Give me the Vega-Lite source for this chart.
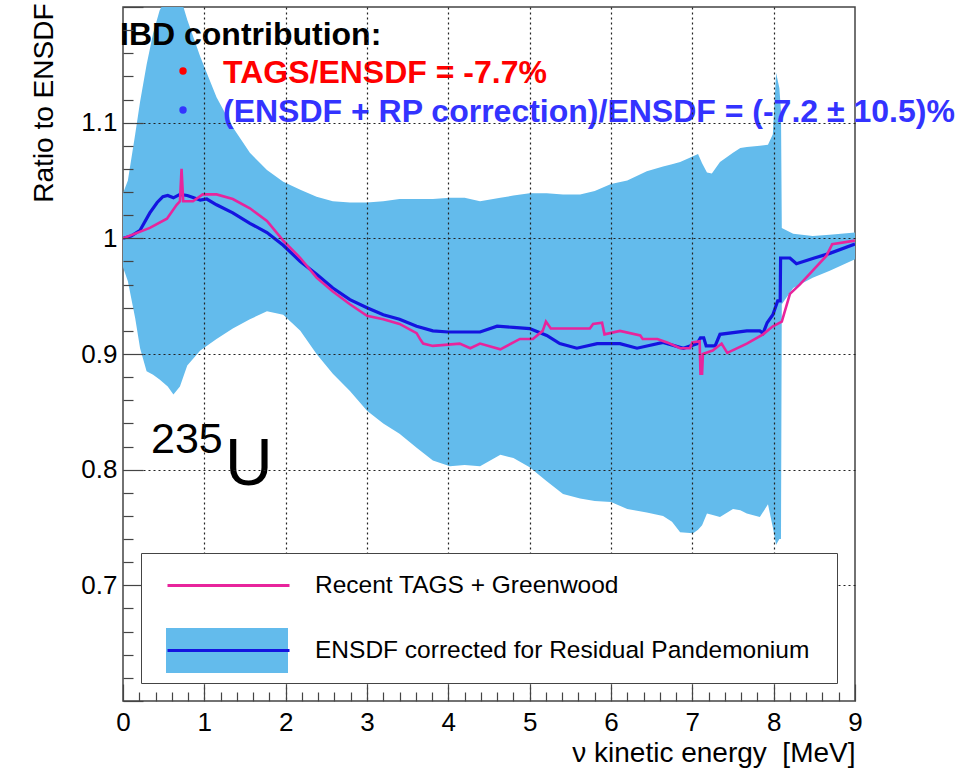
{
  "$schema": "https://vega.github.io/schema/vega-lite/v6.json",
  "width": 732,
  "height": 694,
  "autosize": {"type": "none"},
  "padding": {"left": 123, "top": 7, "right": 106, "bottom": 70},
  "background": "white",
  "config": {
    "font": "Liberation Sans",
    "view": {"stroke": "#444", "strokeWidth": 1.5}
  },
  "datasets": {
    "band": [
      {"E": 0, "lo": 0.975, "hi": 1.039},
      {"E": 0.06, "lo": 0.963, "hi": 1.05},
      {"E": 0.15, "lo": 0.931, "hi": 1.09},
      {"E": 0.21, "lo": 0.905, "hi": 1.118},
      {"E": 0.29, "lo": 0.885, "hi": 1.15},
      {"E": 0.37, "lo": 0.882, "hi": 1.177},
      {"E": 0.45, "lo": 0.878, "hi": 1.197},
      {"E": 0.55, "lo": 0.872, "hi": 1.21},
      {"E": 0.62, "lo": 0.865, "hi": 1.21},
      {"E": 0.7, "lo": 0.872, "hi": 1.21},
      {"E": 0.79, "lo": 0.89, "hi": 1.189},
      {"E": 0.95, "lo": 0.903, "hi": 1.157},
      {"E": 1.15, "lo": 0.913, "hi": 1.122},
      {"E": 1.35, "lo": 0.922, "hi": 1.096},
      {"E": 1.56, "lo": 0.93, "hi": 1.074},
      {"E": 1.77, "lo": 0.937, "hi": 1.059},
      {"E": 1.97, "lo": 0.934, "hi": 1.049},
      {"E": 2.18, "lo": 0.92, "hi": 1.042},
      {"E": 2.38, "lo": 0.9, "hi": 1.036},
      {"E": 2.58, "lo": 0.883, "hi": 1.032},
      {"E": 2.79, "lo": 0.868, "hi": 1.031},
      {"E": 3.0, "lo": 0.851, "hi": 1.031},
      {"E": 3.2, "lo": 0.84, "hi": 1.032},
      {"E": 3.4, "lo": 0.831, "hi": 1.034},
      {"E": 3.61, "lo": 0.819, "hi": 1.034},
      {"E": 3.81, "lo": 0.808, "hi": 1.034},
      {"E": 4.02, "lo": 0.803, "hi": 1.035},
      {"E": 4.2, "lo": 0.804, "hi": 1.035},
      {"E": 4.39, "lo": 0.803, "hi": 1.032},
      {"E": 4.64, "lo": 0.813, "hi": 1.035},
      {"E": 4.8, "lo": 0.81, "hi": 1.037},
      {"E": 5.0, "lo": 0.802, "hi": 1.039},
      {"E": 5.21, "lo": 0.79, "hi": 1.039},
      {"E": 5.41, "lo": 0.779, "hi": 1.038},
      {"E": 5.62, "lo": 0.775, "hi": 1.038},
      {"E": 5.8, "lo": 0.773, "hi": 1.041},
      {"E": 6.0, "lo": 0.772, "hi": 1.047},
      {"E": 6.2, "lo": 0.766, "hi": 1.05},
      {"E": 6.44, "lo": 0.763, "hi": 1.058},
      {"E": 6.64, "lo": 0.76, "hi": 1.062},
      {"E": 6.75, "lo": 0.755, "hi": 1.064},
      {"E": 6.85, "lo": 0.746, "hi": 1.066},
      {"E": 7.01, "lo": 0.745, "hi": 1.071},
      {"E": 7.07, "lo": 0.748, "hi": 1.073},
      {"E": 7.12, "lo": 0.752, "hi": 1.065},
      {"E": 7.18, "lo": 0.762, "hi": 1.057},
      {"E": 7.24, "lo": 0.761, "hi": 1.056},
      {"E": 7.34, "lo": 0.759, "hi": 1.066},
      {"E": 7.5, "lo": 0.766, "hi": 1.074},
      {"E": 7.59, "lo": 0.765, "hi": 1.078},
      {"E": 7.67, "lo": 0.762, "hi": 1.079},
      {"E": 7.83, "lo": 0.759, "hi": 1.08},
      {"E": 7.93, "lo": 0.77, "hi": 1.081},
      {"E": 7.99, "lo": 0.75, "hi": 1.09},
      {"E": 8.03, "lo": 0.735, "hi": 1.143},
      {"E": 8.07, "lo": 0.74, "hi": 1.13},
      {"E": 8.09, "lo": 0.74, "hi": 1.11},
      {"E": 8.1, "lo": 0.943, "hi": 1.009},
      {"E": 8.24, "lo": 0.957, "hi": 1.004},
      {"E": 8.48, "lo": 0.966, "hi": 1.002},
      {"E": 8.69, "lo": 0.972, "hi": 1.003},
      {"E": 9.0, "lo": 0.982, "hi": 1.005}
    ],
    "lines": [
      {"series": "ENSDF corrected for Residual Pandemonium", "E": 0, "r": 1.0},
      {"series": "ENSDF corrected for Residual Pandemonium", "E": 0.1, "r": 1.002},
      {"series": "ENSDF corrected for Residual Pandemonium", "E": 0.21, "r": 1.007},
      {"series": "ENSDF corrected for Residual Pandemonium", "E": 0.33, "r": 1.022},
      {"series": "ENSDF corrected for Residual Pandemonium", "E": 0.42, "r": 1.031},
      {"series": "ENSDF corrected for Residual Pandemonium", "E": 0.49, "r": 1.036},
      {"series": "ENSDF corrected for Residual Pandemonium", "E": 0.55, "r": 1.037},
      {"series": "ENSDF corrected for Residual Pandemonium", "E": 0.62, "r": 1.035},
      {"series": "ENSDF corrected for Residual Pandemonium", "E": 0.7, "r": 1.038},
      {"series": "ENSDF corrected for Residual Pandemonium", "E": 0.79, "r": 1.037},
      {"series": "ENSDF corrected for Residual Pandemonium", "E": 0.87, "r": 1.035},
      {"series": "ENSDF corrected for Residual Pandemonium", "E": 0.95, "r": 1.033},
      {"series": "ENSDF corrected for Residual Pandemonium", "E": 1.03, "r": 1.034},
      {"series": "ENSDF corrected for Residual Pandemonium", "E": 1.15, "r": 1.029},
      {"series": "ENSDF corrected for Residual Pandemonium", "E": 1.35, "r": 1.022},
      {"series": "ENSDF corrected for Residual Pandemonium", "E": 1.56, "r": 1.013},
      {"series": "ENSDF corrected for Residual Pandemonium", "E": 1.77, "r": 1.005},
      {"series": "ENSDF corrected for Residual Pandemonium", "E": 1.97, "r": 0.994},
      {"series": "ENSDF corrected for Residual Pandemonium", "E": 2.18, "r": 0.98},
      {"series": "ENSDF corrected for Residual Pandemonium", "E": 2.38, "r": 0.969},
      {"series": "ENSDF corrected for Residual Pandemonium", "E": 2.58, "r": 0.957},
      {"series": "ENSDF corrected for Residual Pandemonium", "E": 2.79, "r": 0.947},
      {"series": "ENSDF corrected for Residual Pandemonium", "E": 3.0, "r": 0.94},
      {"series": "ENSDF corrected for Residual Pandemonium", "E": 3.2, "r": 0.934},
      {"series": "ENSDF corrected for Residual Pandemonium", "E": 3.4, "r": 0.93},
      {"series": "ENSDF corrected for Residual Pandemonium", "E": 3.61, "r": 0.924},
      {"series": "ENSDF corrected for Residual Pandemonium", "E": 3.81, "r": 0.92},
      {"series": "ENSDF corrected for Residual Pandemonium", "E": 4.0, "r": 0.919},
      {"series": "ENSDF corrected for Residual Pandemonium", "E": 4.39, "r": 0.919},
      {"series": "ENSDF corrected for Residual Pandemonium", "E": 4.6, "r": 0.924},
      {"series": "ENSDF corrected for Residual Pandemonium", "E": 4.8, "r": 0.923},
      {"series": "ENSDF corrected for Residual Pandemonium", "E": 5.0, "r": 0.922},
      {"series": "ENSDF corrected for Residual Pandemonium", "E": 5.21, "r": 0.916},
      {"series": "ENSDF corrected for Residual Pandemonium", "E": 5.37, "r": 0.909},
      {"series": "ENSDF corrected for Residual Pandemonium", "E": 5.58, "r": 0.905},
      {"series": "ENSDF corrected for Residual Pandemonium", "E": 5.83, "r": 0.909},
      {"series": "ENSDF corrected for Residual Pandemonium", "E": 6.11, "r": 0.909},
      {"series": "ENSDF corrected for Residual Pandemonium", "E": 6.32, "r": 0.905},
      {"series": "ENSDF corrected for Residual Pandemonium", "E": 6.64, "r": 0.91},
      {"series": "ENSDF corrected for Residual Pandemonium", "E": 6.89, "r": 0.905},
      {"series": "ENSDF corrected for Residual Pandemonium", "E": 7.06, "r": 0.909},
      {"series": "ENSDF corrected for Residual Pandemonium", "E": 7.1, "r": 0.914},
      {"series": "ENSDF corrected for Residual Pandemonium", "E": 7.14, "r": 0.914},
      {"series": "ENSDF corrected for Residual Pandemonium", "E": 7.17, "r": 0.907},
      {"series": "ENSDF corrected for Residual Pandemonium", "E": 7.28, "r": 0.907},
      {"series": "ENSDF corrected for Residual Pandemonium", "E": 7.34, "r": 0.917},
      {"series": "ENSDF corrected for Residual Pandemonium", "E": 7.67, "r": 0.92},
      {"series": "ENSDF corrected for Residual Pandemonium", "E": 7.83, "r": 0.92},
      {"series": "ENSDF corrected for Residual Pandemonium", "E": 7.87, "r": 0.918},
      {"series": "ENSDF corrected for Residual Pandemonium", "E": 7.92, "r": 0.927},
      {"series": "ENSDF corrected for Residual Pandemonium", "E": 7.99, "r": 0.934},
      {"series": "ENSDF corrected for Residual Pandemonium", "E": 8.05, "r": 0.946},
      {"series": "ENSDF corrected for Residual Pandemonium", "E": 8.08, "r": 0.946},
      {"series": "ENSDF corrected for Residual Pandemonium", "E": 8.085, "r": 0.983},
      {"series": "ENSDF corrected for Residual Pandemonium", "E": 8.2, "r": 0.983},
      {"series": "ENSDF corrected for Residual Pandemonium", "E": 8.28, "r": 0.978},
      {"series": "ENSDF corrected for Residual Pandemonium", "E": 8.5, "r": 0.983},
      {"series": "ENSDF corrected for Residual Pandemonium", "E": 8.69, "r": 0.987},
      {"series": "ENSDF corrected for Residual Pandemonium", "E": 9.0, "r": 0.995},
      {"series": "Recent TAGS + Greenwood", "E": 0, "r": 1.0},
      {"series": "Recent TAGS + Greenwood", "E": 0.33, "r": 1.009},
      {"series": "Recent TAGS + Greenwood", "E": 0.54, "r": 1.017},
      {"series": "Recent TAGS + Greenwood", "E": 0.66, "r": 1.029},
      {"series": "Recent TAGS + Greenwood", "E": 0.7, "r": 1.032},
      {"series": "Recent TAGS + Greenwood", "E": 0.72, "r": 1.06},
      {"series": "Recent TAGS + Greenwood", "E": 0.74, "r": 1.032},
      {"series": "Recent TAGS + Greenwood", "E": 0.86, "r": 1.032},
      {"series": "Recent TAGS + Greenwood", "E": 0.98, "r": 1.038},
      {"series": "Recent TAGS + Greenwood", "E": 1.15, "r": 1.038},
      {"series": "Recent TAGS + Greenwood", "E": 1.35, "r": 1.034},
      {"series": "Recent TAGS + Greenwood", "E": 1.56, "r": 1.026},
      {"series": "Recent TAGS + Greenwood", "E": 1.77, "r": 1.015},
      {"series": "Recent TAGS + Greenwood", "E": 1.97, "r": 0.998},
      {"series": "Recent TAGS + Greenwood", "E": 2.18, "r": 0.983},
      {"series": "Recent TAGS + Greenwood", "E": 2.38, "r": 0.966},
      {"series": "Recent TAGS + Greenwood", "E": 2.58, "r": 0.954},
      {"series": "Recent TAGS + Greenwood", "E": 2.79, "r": 0.943},
      {"series": "Recent TAGS + Greenwood", "E": 3.0, "r": 0.933},
      {"series": "Recent TAGS + Greenwood", "E": 3.2, "r": 0.93},
      {"series": "Recent TAGS + Greenwood", "E": 3.4, "r": 0.926},
      {"series": "Recent TAGS + Greenwood", "E": 3.61, "r": 0.918},
      {"series": "Recent TAGS + Greenwood", "E": 3.66, "r": 0.912},
      {"series": "Recent TAGS + Greenwood", "E": 3.69, "r": 0.909},
      {"series": "Recent TAGS + Greenwood", "E": 3.81, "r": 0.907},
      {"series": "Recent TAGS + Greenwood", "E": 4.14, "r": 0.909},
      {"series": "Recent TAGS + Greenwood", "E": 4.27, "r": 0.905},
      {"series": "Recent TAGS + Greenwood", "E": 4.39, "r": 0.909},
      {"series": "Recent TAGS + Greenwood", "E": 4.64, "r": 0.904},
      {"series": "Recent TAGS + Greenwood", "E": 4.88, "r": 0.913},
      {"series": "Recent TAGS + Greenwood", "E": 5.04, "r": 0.913},
      {"series": "Recent TAGS + Greenwood", "E": 5.16, "r": 0.92},
      {"series": "Recent TAGS + Greenwood", "E": 5.2, "r": 0.928},
      {"series": "Recent TAGS + Greenwood", "E": 5.26, "r": 0.922},
      {"series": "Recent TAGS + Greenwood", "E": 5.62, "r": 0.922},
      {"series": "Recent TAGS + Greenwood", "E": 5.74, "r": 0.922},
      {"series": "Recent TAGS + Greenwood", "E": 5.78, "r": 0.926},
      {"series": "Recent TAGS + Greenwood", "E": 5.89, "r": 0.927},
      {"series": "Recent TAGS + Greenwood", "E": 5.92, "r": 0.917},
      {"series": "Recent TAGS + Greenwood", "E": 6.11, "r": 0.92},
      {"series": "Recent TAGS + Greenwood", "E": 6.36, "r": 0.916},
      {"series": "Recent TAGS + Greenwood", "E": 6.39, "r": 0.913},
      {"series": "Recent TAGS + Greenwood", "E": 6.57, "r": 0.913},
      {"series": "Recent TAGS + Greenwood", "E": 6.69, "r": 0.91},
      {"series": "Recent TAGS + Greenwood", "E": 6.85, "r": 0.905},
      {"series": "Recent TAGS + Greenwood", "E": 6.97, "r": 0.905},
      {"series": "Recent TAGS + Greenwood", "E": 7.0, "r": 0.91},
      {"series": "Recent TAGS + Greenwood", "E": 7.09, "r": 0.911},
      {"series": "Recent TAGS + Greenwood", "E": 7.1, "r": 0.883},
      {"series": "Recent TAGS + Greenwood", "E": 7.12, "r": 0.883},
      {"series": "Recent TAGS + Greenwood", "E": 7.13, "r": 0.9},
      {"series": "Recent TAGS + Greenwood", "E": 7.25, "r": 0.903},
      {"series": "Recent TAGS + Greenwood", "E": 7.36, "r": 0.909},
      {"series": "Recent TAGS + Greenwood", "E": 7.43, "r": 0.901},
      {"series": "Recent TAGS + Greenwood", "E": 7.67, "r": 0.909},
      {"series": "Recent TAGS + Greenwood", "E": 7.87, "r": 0.917},
      {"series": "Recent TAGS + Greenwood", "E": 7.99, "r": 0.924},
      {"series": "Recent TAGS + Greenwood", "E": 8.1, "r": 0.928},
      {"series": "Recent TAGS + Greenwood", "E": 8.2, "r": 0.952},
      {"series": "Recent TAGS + Greenwood", "E": 8.32, "r": 0.96},
      {"series": "Recent TAGS + Greenwood", "E": 8.48, "r": 0.972},
      {"series": "Recent TAGS + Greenwood", "E": 8.65, "r": 0.985},
      {"series": "Recent TAGS + Greenwood", "E": 8.72, "r": 0.995},
      {"series": "Recent TAGS + Greenwood", "E": 9.0, "r": 0.998}
    ]
  },
  "layer": [
    {
      "data": {"name": "band"},
      "mark": {"type": "area", "clip": true},
      "encoding": {
        "x": {
          "field": "E", "type": "quantitative",
          "scale": {"domain": [0, 9], "nice": false, "zero": false},
          "axis": {
            "values": [0,0.2,0.4,0.6,0.8,1,1.2,1.4,1.6,1.8,2,2.2,2.4,2.6,2.8,3,3.2,3.4,3.6,3.8,4,4.2,4.4,4.6,4.8,5,5.2,5.4,5.6,5.8,6,6.2,6.4,6.6,6.8,7,7.2,7.4,7.6,7.8,8,8.2,8.4,8.6,8.8,9],
            "tickCount": 200,
            "domain": false,
            "tickColor": "#444",
            "tickWidth": 1.2,
            "tickSize": {"condition": {"test": "abs(datum.value - round(datum.value)) < 0.001", "value": -17}, "value": -9},
            "labelExpr": "abs(datum.value - round(datum.value)) < 0.001 ? format(datum.value, 'd') : ''",
            "labelFontSize": 26,
            "labelColor": "#000",
            "labelPadding": 25,
            "labelFlush": false,
            "labelOverlap": false,
            "grid": true,
            "gridColor": "#222",
            "gridDash": [2, 3],
            "gridWidth": 1.2,
            "gridOpacity": {"condition": {"test": "abs(datum.value - round(datum.value)) < 0.001 && datum.value > 0.5 && datum.value < 8.5", "value": 1}, "value": 0},
            "title": "ν kinetic energy \u00a0[MeV]",
            "titleFontSize": 28,
            "titleFontWeight": "normal",
            "titleColor": "#000",
            "titleAnchor": "end",
            "titleAlign": "right",
            "titleBaseline": "alphabetic",
            "titleX": 732,
            "titleY": 60,
            "zindex": 1
          }
        },
        "y": {
          "field": "lo", "type": "quantitative",
          "scale": {"domain": [0.6, 1.2], "nice": false, "zero": false},
          "axis": {
            "values": [0.6,0.62,0.64,0.66,0.68,0.7,0.72,0.74,0.76,0.78,0.8,0.82,0.84,0.86,0.88,0.9,0.92,0.94,0.96,0.98,1,1.02,1.04,1.06,1.08,1.1,1.12,1.14,1.16,1.18,1.2],
            "tickCount": 200,
            "domain": false,
            "tickColor": "#444",
            "tickWidth": 1.2,
            "tickSize": {"condition": {"test": "abs(datum.value*10 - round(datum.value*10)) < 0.001", "value": -20}, "value": -10},
            "labelExpr": "abs(datum.value*10 - round(datum.value*10)) < 0.001 && datum.value > 0.65 && datum.value < 1.15 ? format(datum.value, '.1~f') : ''",
            "labelFontSize": 26,
            "labelColor": "#000",
            "labelPadding": 26,
            "labelFlush": false,
            "labelOverlap": false,
            "grid": true,
            "gridColor": "#222",
            "gridDash": [2, 3],
            "gridWidth": 1.2,
            "gridOpacity": {"condition": {"test": "abs(datum.value*10 - round(datum.value*10)) < 0.001 && datum.value > 0.65 && datum.value < 1.15", "value": 1}, "value": 0},
            "title": "Ratio to ENSDF",
            "titleFontSize": 28,
            "titleFontWeight": "normal",
            "titleColor": "#000",
            "titleAngle": -90,
            "titleAlign": "right",
            "titleBaseline": "alphabetic",
            "titleX": -71,
            "titleY": -4,
            "zindex": 1
          }
        },
        "y2": {"field": "hi"},
        "fill": {
          "datum": "ENSDF",
          "type": "nominal",
          "scale": {"domain": ["TAGS", "ENSDF"], "range": ["transparent", "#63bbec"]},
          "legend": {
            "orient": "none",
            "legendX": 18,
            "legendY": 546,
            "title": ".",
            "titleOrient": "right",
            "titleColor": "transparent",
            "titleFontSize": 8,
            "titlePadding": 15,
            "symbolType": "M-1,-0.37H1V0.37H-1Z",
            "symbolSize": 14884,
            "symbolStrokeWidth": 0,
            "symbolOpacity": 1,
            "clipHeight": 45,
            "rowPadding": 20,
            "padding": 10,
            "symbolOffset": 15,
            "labelOffset": 27,
            "labelFontSize": 24.5,
            "labelColor": "#000",
            "labelLimit": 1000,
            "labelExpr": "datum.value === 'TAGS' ? 'Recent TAGS + Greenwood' : 'ENSDF corrected for Residual Pandemonium'",
            "strokeColor": "#444",
            "fillColor": "white",
            "zindex": 2
          }
        }
      }
    },
    {
      "data": {"name": "lines"},
      "transform": [{"filter": "datum.series === 'ENSDF corrected for Residual Pandemonium'"}],
      "mark": {"type": "line", "strokeWidth": 3.2, "clip": true},
      "encoding": {
        "x": {"field": "E", "type": "quantitative"},
        "y": {"field": "r", "type": "quantitative"},
        "stroke": {
          "field": "series",
          "type": "nominal",
          "scale": {"domain": ["Recent TAGS + Greenwood", "ENSDF corrected for Residual Pandemonium"], "range": ["#e8249c", "#1414e0"]},
          "legend": {
            "orient": "none",
            "legendX": 18,
            "legendY": 546,
            "title": null,
            "symbolType": "stroke",
            "symbolSize": 14884,
            "symbolStrokeWidth": 3,
            "clipHeight": 45,
            "rowPadding": 20,
            "padding": 10,
            "symbolOffset": 15,
            "labelOffset": 27,
            "labelFontSize": 24.5,
            "labelExpr": "''",
            "zindex": 3
          }
        }
      }
    },
    {
      "data": {"name": "lines"},
      "transform": [{"filter": "datum.series === 'Recent TAGS + Greenwood'"}],
      "mark": {"type": "line", "strokeWidth": 2.6, "clip": true},
      "encoding": {
        "x": {"field": "E", "type": "quantitative"},
        "y": {"field": "r", "type": "quantitative"},
        "stroke": {"field": "series", "type": "nominal"}
      }
    },
    {
      "data": {"values": [{}]},
      "mark": {"type": "text", "text": "IBD contribution:", "font": "Liberation Sans", "fontSize": 32, "fontWeight": "bold", "color": "#000", "align": "left", "baseline": "alphabetic", "dx": -3},
      "encoding": {"x": {"datum": 0}, "y": {"datum": 1.1671}}
    },
    {
      "data": {"values": [{}]},
      "mark": {"type": "point", "filled": true, "size": 55, "color": "#ff0000", "opacity": 1},
      "encoding": {"x": {"datum": 0.738}, "y": {"datum": 1.1447}}
    },
    {
      "data": {"values": [{}]},
      "mark": {"type": "point", "filled": true, "size": 55, "color": "#3333ff", "opacity": 1},
      "encoding": {"x": {"datum": 0.738}, "y": {"datum": 1.111}}
    },
    {
      "data": {"values": [{}]},
      "mark": {"type": "text", "text": "TAGS/ENSDF = -7.7%", "font": "Liberation Sans", "fontSize": 32, "fontWeight": "bold", "color": "#ff0000", "align": "left", "baseline": "alphabetic"},
      "encoding": {"x": {"datum": 1.2296}, "y": {"datum": 1.1343}}
    },
    {
      "data": {"values": [{}]},
      "mark": {"type": "text", "text": "(ENSDF + RP correction)/ENSDF = (-7.2 ± 10.5)%", "font": "Liberation Sans", "fontSize": 32, "fontWeight": "bold", "color": "#3333ff", "align": "left", "baseline": "alphabetic"},
      "encoding": {"x": {"datum": 1.2296}, "y": {"datum": 1.1006}}
    },
    {
      "data": {"values": [{}]},
      "mark": {"type": "text", "text": "235", "font": "Liberation Sans", "fontSize": 43, "color": "#000", "align": "left", "baseline": "alphabetic"},
      "encoding": {"x": {"datum": 0.344}, "y": {"datum": 0.8144}}
    },
    {
      "data": {"values": [{}]},
      "mark": {"type": "text", "text": "U", "font": "Liberation Sans", "fontSize": 66, "color": "#000", "align": "left", "baseline": "alphabetic"},
      "encoding": {"x": {"datum": 1.254}, "y": {"datum": 0.7867}}
    }
  ]
}
